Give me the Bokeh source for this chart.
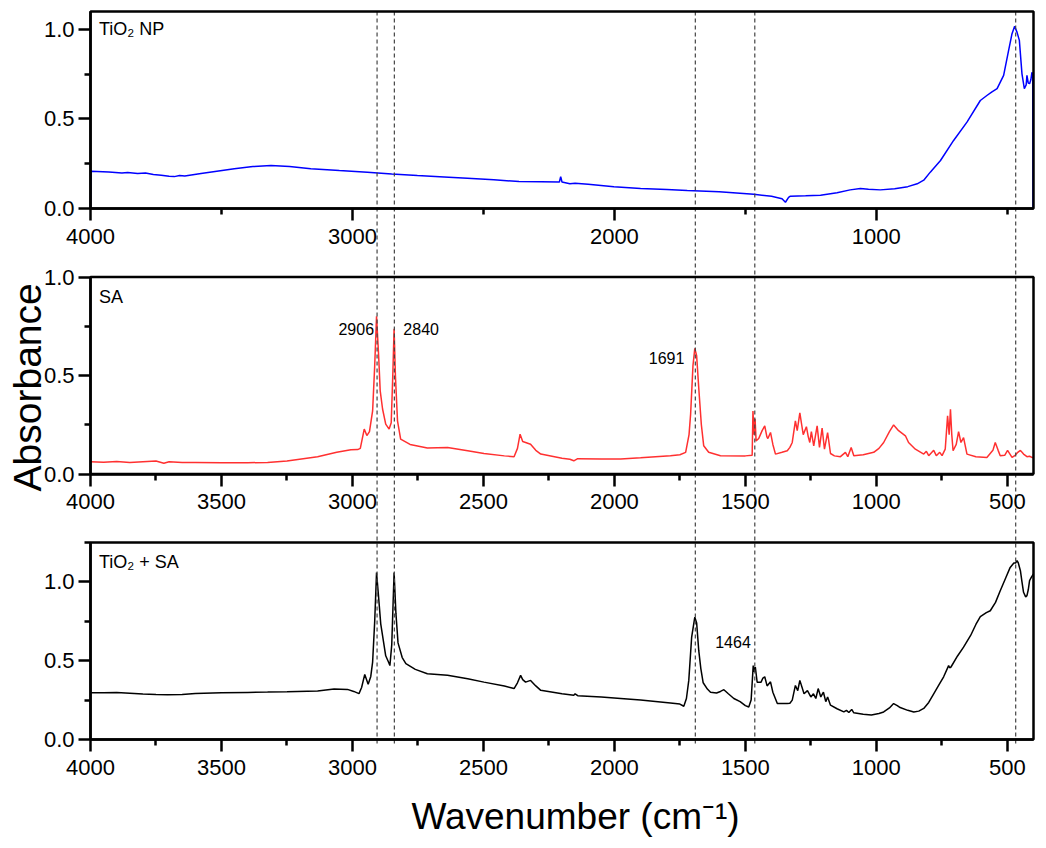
from math import pi

from bokeh.embed import file_html
from bokeh.models import (BoxAnnotation, FixedTicker, Label, LinearAxis,
                          PrintfTickFormatter, Range1d)
from bokeh.plotting import figure
from bokeh.resources import INLINE

FONT = "Liberation Sans"

# TiO2 NP spectrum (wavenumber cm-1, absorbance)
tio2_wn = [4000, 3998, 3930, 3880, 3858, 3820, 3790, 3760, 3730, 3700, 3680,
           3660, 3640, 3578, 3451, 3380, 3311, 3240, 3159, 3050, 2943, 2850,
           2752, 2650, 2561, 2460, 2364, 2280, 2210, 2205, 2200, 2170, 2150,
           2100, 2002, 1900, 1800, 1722, 1600, 1468, 1400, 1360, 1347, 1335,
           1328, 1270, 1213, 1150, 1100, 1061, 1030, 985, 930, 880, 844, 819,
           794, 755, 705, 654, 603, 578, 560, 539, 514, 495, 482, 472, 463,
           454, 444, 435, 428, 425, 420, 415, 410, 406, 403, 402]
tio2_abs = [0.0, 0.208, 0.204, 0.198, 0.201, 0.195, 0.198, 0.190, 0.186, 0.180,
            0.178, 0.184, 0.181, 0.195, 0.222, 0.234, 0.240, 0.235, 0.222,
            0.212, 0.203, 0.193, 0.184, 0.176, 0.169, 0.160, 0.151, 0.150,
            0.148, 0.178, 0.148, 0.138, 0.141, 0.135, 0.122, 0.112, 0.106,
            0.101, 0.094, 0.080, 0.068, 0.055, 0.035, 0.062, 0.069, 0.071,
            0.074, 0.088, 0.104, 0.112, 0.107, 0.104, 0.110, 0.122, 0.138,
            0.158, 0.203, 0.268, 0.380, 0.482, 0.603, 0.631, 0.650, 0.669,
            0.743, 0.883, 0.976, 1.017, 0.985, 0.939, 0.752, 0.669, 0.690,
            0.743, 0.700, 0.697, 0.720, 0.760, 0.750, 0.0]

# stearic acid (SA) spectrum
sa_wn = [4000, 3950, 3900, 3850, 3800, 3750, 3720, 3700, 3650, 3600, 3500,
         3400, 3324, 3250, 3133, 3060, 3006, 2980, 2970, 2955, 2945, 2935,
         2923, 2915, 2908, 2900, 2894, 2885, 2873, 2860, 2852, 2846, 2841,
         2836, 2828, 2816, 2780, 2714, 2637, 2560, 2498, 2420, 2383, 2370,
         2360, 2350, 2339, 2320, 2300, 2281, 2200, 2170, 2155, 2140, 2050,
         1976, 1900, 1786, 1750, 1728, 1715, 1709, 1700, 1693, 1686, 1678,
         1668, 1659, 1640, 1595, 1500, 1474, 1471, 1467, 1463, 1459, 1449,
         1436, 1426, 1418, 1414, 1404, 1395, 1385, 1360, 1340, 1330, 1321,
         1309, 1302, 1292, 1285, 1279, 1267, 1260, 1254, 1248, 1239, 1226,
         1217, 1207, 1198, 1186, 1175, 1160, 1137, 1118, 1109, 1096, 1086,
         1050, 1010, 990, 972, 950, 934, 915, 889, 877, 851, 819, 809, 800,
         781, 771, 758, 749, 737, 728, 722, 717, 712, 707, 695, 686, 677,
         667, 654, 620, 578, 555, 546, 535, 527, 510, 499, 482, 470, 460,
         450, 438, 425, 415, 406, 400]
sa_abs = [0.062, 0.060, 0.063, 0.058, 0.062, 0.066, 0.055, 0.062, 0.058,
          0.058, 0.057, 0.057, 0.059, 0.066, 0.088, 0.110, 0.123, 0.124,
          0.130, 0.228, 0.195, 0.215, 0.320, 0.550, 0.801, 0.600, 0.422,
          0.330, 0.253, 0.228, 0.260, 0.500, 0.737, 0.500, 0.270, 0.177,
          0.150, 0.132, 0.135, 0.118, 0.104, 0.092, 0.088, 0.130, 0.202,
          0.165, 0.160, 0.151, 0.120, 0.101, 0.080, 0.075, 0.067, 0.078,
          0.076, 0.076, 0.082, 0.093, 0.098, 0.110, 0.200, 0.304, 0.550,
          0.638, 0.600, 0.438, 0.250, 0.143, 0.110, 0.093, 0.092, 0.095,
          0.320, 0.200, 0.280, 0.168, 0.180, 0.220, 0.244, 0.190, 0.180,
          0.211, 0.150, 0.101, 0.110, 0.118, 0.135, 0.160, 0.270, 0.220,
          0.310, 0.250, 0.200, 0.240, 0.190, 0.160, 0.215, 0.143, 0.244,
          0.135, 0.233, 0.126, 0.210, 0.104, 0.092, 0.088, 0.110, 0.088,
          0.135, 0.093, 0.098, 0.110, 0.130, 0.160, 0.215, 0.249, 0.220,
          0.194, 0.160, 0.126, 0.101, 0.115, 0.093, 0.120, 0.093, 0.110,
          0.093, 0.126, 0.295, 0.200, 0.329, 0.200, 0.118, 0.150, 0.215,
          0.160, 0.185, 0.101, 0.088, 0.084, 0.120, 0.160, 0.120, 0.093,
          0.095, 0.120, 0.084, 0.095, 0.110, 0.120, 0.101, 0.088, 0.090,
          0.084, 0.084]

# TiO2 + SA spectrum
mix_wn = [4000, 3950, 3900, 3850, 3800, 3750, 3706, 3650, 3600, 3500, 3400,
          3324, 3250, 3133, 3070, 3019, 2995, 2975, 2965, 2953, 2940, 2930,
          2923, 2915, 2908, 2900, 2892, 2873, 2862, 2857, 2850, 2841, 2834,
          2826, 2810, 2796, 2760, 2714, 2637, 2560, 2498, 2420, 2383, 2370,
          2358, 2350, 2339, 2320, 2300, 2281, 2200, 2155, 2150, 2140, 2050,
          1976, 1900, 1786, 1750, 1735, 1725, 1716, 1705, 1693, 1686, 1678,
          1670, 1661, 1645, 1633, 1610, 1595, 1582, 1565, 1544, 1520, 1500,
          1487, 1478, 1470, 1466, 1462, 1455, 1440, 1433, 1426, 1417, 1404,
          1395, 1378, 1340, 1330, 1321, 1309, 1300, 1292, 1276, 1263, 1250,
          1240, 1231, 1222, 1212, 1202, 1193, 1186, 1175, 1150, 1124, 1114,
          1105, 1094, 1086, 1050, 1019, 990, 972, 950, 934, 920, 909, 880,
          857, 838, 819, 800, 781, 760, 743, 724, 720, 715, 690, 667, 640,
          620, 603, 580, 565, 545, 527, 505, 489, 475, 468, 463, 458, 450,
          444, 438, 430, 425, 420, 415, 408, 400]
mix_abs = [0.297, 0.296, 0.298, 0.294, 0.288, 0.285, 0.284, 0.286, 0.292,
           0.296, 0.299, 0.301, 0.303, 0.307, 0.320, 0.318, 0.305, 0.291,
           0.330, 0.413, 0.350, 0.400, 0.491, 0.750, 1.060, 0.900, 0.734,
           0.531, 0.490, 0.469, 0.600, 1.060, 0.800, 0.613, 0.520, 0.481,
           0.445, 0.417, 0.407, 0.385, 0.364, 0.340, 0.323, 0.360, 0.407,
           0.380, 0.364, 0.375, 0.340, 0.312, 0.290, 0.281, 0.290, 0.278,
           0.270, 0.260, 0.250, 0.232, 0.225, 0.211, 0.260, 0.375, 0.650,
           0.776, 0.740, 0.565, 0.450, 0.360, 0.320, 0.300, 0.295, 0.305,
           0.316, 0.290, 0.260, 0.240, 0.215, 0.206, 0.250, 0.469, 0.430,
           0.460, 0.364, 0.364, 0.390, 0.398, 0.340, 0.366, 0.300, 0.228,
           0.228, 0.230, 0.250, 0.343, 0.310, 0.375, 0.290, 0.310, 0.270,
           0.290, 0.260, 0.323, 0.270, 0.300, 0.240, 0.270, 0.218, 0.195,
           0.175, 0.185, 0.171, 0.191, 0.169, 0.160, 0.155, 0.165, 0.175,
           0.200, 0.228, 0.215, 0.203, 0.185, 0.175, 0.180, 0.197, 0.235,
           0.290, 0.350, 0.398, 0.469, 0.455, 0.460, 0.530, 0.586, 0.660,
           0.730, 0.780, 0.805, 0.817, 0.870, 0.944, 1.030, 1.092, 1.120,
           1.120, 1.135, 1.120, 1.071, 1.000, 0.934, 0.905, 0.913, 0.950,
           1.008, 1.030, 1.050]

marker_wn = [2906, 2840, 1691, 1464, 468]

# page geometry: the frame covers the whole canvas, panels are placed by ranges
W, H = 1046, 840
LEFT, RIGHT, TOP, BOTTOM = 90, 13, 11, 101
panel_h = 197
gap = 68.5
WN_HI, WN_LO = 4000, 400
u = (WN_HI - WN_LO) / (W - LEFT - RIGHT)   # wavenumber per pixel


def panel_range(ymax, slot):
    # slot 0 = bottom panel; 0..ymax fills that panel's pixel band
    s = ymax / panel_h
    start = -(BOTTOM + slot * (panel_h + gap)) * s
    return Range1d(start, start + H * s)


p = figure(width=W, height=H,
           x_range=Range1d(WN_HI + LEFT * u, WN_LO - RIGHT * u),
           y_range=panel_range(1.25, 0),
           output_backend="svg", toolbar_location=None,
           x_axis_location=None, y_axis_location=None,
           min_border=0, outline_line_color=None)
p.grid.visible = False
p.extra_y_ranges = {"np": panel_range(1.1, 2), "sa": panel_range(1.0, 1)}


def style_axis(ax):
    ax.axis_line_width = 2.5
    ax.major_tick_line_width = 2.5
    ax.minor_tick_line_width = 2.5
    ax.major_tick_in = 0
    ax.minor_tick_in = 0
    ax.major_tick_out = 12
    ax.minor_tick_out = 6
    ax.major_label_text_font = FONT
    ax.major_label_text_font_size = "22px"
    ax.major_label_text_color = "black"


panels = [("np", 1.1, [4000, 3000, 2000, 1000], [3500, 2500, 1500, 500], [0.25, 0.75]),
          ("sa", 1.0, list(range(4000, 400, -500)), list(range(3750, 400, -500)), [0.25, 0.75]),
          ("default", 1.25, list(range(4000, 400, -500)), list(range(3750, 400, -500)), [0.25, 0.75, 1.25])]

for name, ymax, xt, xm, ym in panels:
    xa = LinearAxis(y_range_name=name, fixed_location=0, bounds=(WN_LO, WN_HI))
    xa.ticker = FixedTicker(ticks=xt, minor_ticks=xm)
    xa.formatter = PrintfTickFormatter(format="%d")
    style_axis(xa)
    xa.major_label_standoff = 8
    p.add_layout(xa, "below")

    ya = LinearAxis(y_range_name=name, fixed_location=WN_HI, bounds=(0, ymax))
    ya.ticker = FixedTicker(ticks=[0, 0.5, 1.0], minor_ticks=ym)
    ya.formatter = PrintfTickFormatter(format="%.1f")
    style_axis(ya)
    ya.major_label_standoff = 4
    p.add_layout(ya, "left")

    p.add_layout(BoxAnnotation(left=WN_HI, right=WN_LO, bottom=0, top=ymax,
                               y_range_name=name, fill_color=None,
                               line_color="black", line_alpha=1.0, line_width=2.5))

p.line(tio2_wn, tio2_abs, y_range_name="np", line_color="#0000ff", line_width=1.5)
p.line(sa_wn, sa_abs, y_range_name="sa", line_color="#ff3030", line_width=1.5)
p.line(mix_wn, mix_abs, line_color="black", line_width=1.5)

# dashed markers run from the top of the first panel to just below the last one
s3 = 1.25 / panel_h
top_y = (2 * (panel_h + gap) + panel_h) * s3
p.segment(x0=marker_wn, x1=marker_wn, y0=[-4 * s3] * len(marker_wn),
          y1=[top_y] * len(marker_wn), line_dash="4 3",
          line_color="#444444", line_width=1.2)

# panel names
for text, name, y in [("TiO₂ NP", "np", 1.0), ("SA", "sa", 0.9), ("TiO₂ + SA", "default", 1.124)]:
    p.add_layout(Label(x=3968, y=y, y_range_name=name, text=text, text_font=FONT,
                       text_color="black", text_font_size="18px",
                       text_baseline="middle"))

# peak positions
for text, name, x, y, dx, align in [("2906", "sa", 2906, 0.737, -3, "right"),
                                     ("2840", "sa", 2840, 0.737, 9, "left"),
                                     ("1691", "sa", 1691, 0.59, -11, "right"),
                                     ("1464", "default", 1464, 0.617, -4, "right")]:
    p.add_layout(Label(x=x, y=y, x_offset=dx, y_range_name=name, text=text,
                       text_font=FONT, text_color="black", text_font_size="16px",
                       text_align=align, text_baseline="middle"))

p.add_layout(Label(x=WN_HI + 63 * u, y=0.44, y_range_name="sa", text="Absorbance",
                   angle=pi / 2, text_font=FONT, text_color="black",
                   text_font_size="39px", text_align="center", text_baseline="middle"))
p.add_layout(Label(x=WN_HI - 485 * u, y=-77 * s3, text="Wavenumber (cm⁻¹)",
                   text_font=FONT, text_color="black", text_font_size="37px",
                   text_align="center", text_baseline="middle"))

open("out.html", "w").write(file_html(p, INLINE))
